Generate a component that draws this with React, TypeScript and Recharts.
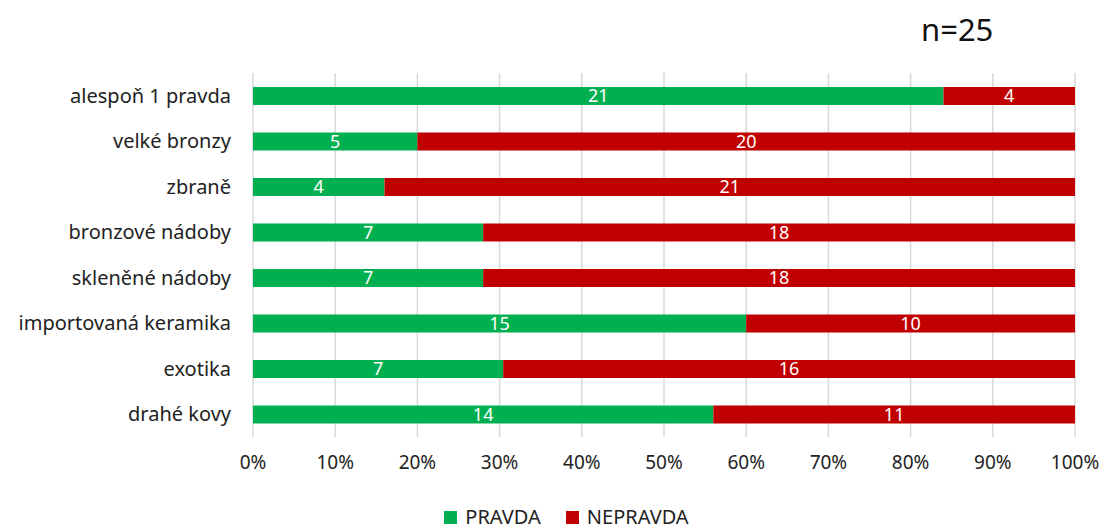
import { BarChart, Bar, XAxis, YAxis, CartesianGrid, LabelList, Legend } from "recharts"

const categories = [
  "alespoň 1 pravda",
  "velké bronzy",
  "zbraně",
  "bronzové nádoby",
  "skleněné nádoby",
  "importovaná keramika",
  "exotika",
  "drahé kovy",
]
const pravda = [21, 5, 4, 7, 7, 15, 7, 14]
const nepravda = [4, 20, 21, 18, 18, 10, 16, 11]
const xTicks = [0, 0.1, 0.2, 0.3, 0.4, 0.5, 0.6, 0.7, 0.8, 0.9, 1]

const GREEN = "#00b050"
const RED = "#c00000"
const FONT = "'Noto Sans', sans-serif"

const data = categories.map((name, i) => ({ name, pravda: pravda[i], nepravda: nepravda[i] }))

function LegendContent() {
  const items = [
    { label: "PRAVDA", color: GREEN },
    { label: "NEPRAVDA", color: RED },
  ]
  return (
    <div
      style={{
        display: "flex",
        justifyContent: "center",
        gap: 25,
        fontFamily: FONT,
        fontSize: 20,
        color: "#222",
        lineHeight: "26px",
        height: 26,
      }}
    >
      {items.map((it) => (
        <div key={it.label} style={{ display: "flex", alignItems: "center" }}>
          <span style={{ display: "inline-block", width: 13, height: 13, background: it.color, marginRight: 8 }} />
          <span>{it.label}</span>
        </div>
      ))}
    </div>
  )
}

export default function App() {
  return (
    <div style={{ position: "absolute", left: 0, top: 0, width: 1105, height: 532, background: "#fff" }}>
      <div
        style={{
          position: "absolute",
          left: 921,
          top: 8,
          fontFamily: FONT,
          fontSize: 31,
          color: "#111",
          lineHeight: "42px",
        }}
      >
        n=25
      </div>
      <BarChart
        width={1105}
        height={532}
        data={data}
        layout="vertical"
        stackOffset="expand"
        margin={{ top: 73, right: 30, bottom: 39, left: 0 }}
      >
        <CartesianGrid horizontal={false} stroke="#d9d9d9" strokeWidth={1.5} />
        <XAxis
          type="number"
          domain={[0, 1]}
          ticks={xTicks}
          tickFormatter={(v) => `${Math.round(v * 100)}%`}
          axisLine={false}
          tickLine={false}
          tickSize={0}
          tickMargin={19}
          height={30}
          tick={{ fontFamily: FONT, fontSize: 19, fill: "#222" }}
          interval={0}
        />
        <YAxis
          type="category"
          dataKey="name"
          width={253}
          axisLine={false}
          tickLine={false}
          tickSize={0}
          tickMargin={22}
          tick={{ fontFamily: FONT, fontSize: 20, fill: "#222" }}
          interval={0}
        />
        <Legend
          verticalAlign="bottom"
          height={26}
          wrapperStyle={{ bottom: 2, left: 29 }}
          content={() => <LegendContent />}
        />
        <Bar dataKey="pravda" stackId="a" fill={GREEN} barSize={18} isAnimationActive={false}>
          <LabelList dataKey="pravda" position="center" fill="#fff" style={{ fontFamily: FONT, fontSize: 18 }} />
        </Bar>
        <Bar dataKey="nepravda" stackId="a" fill={RED} barSize={18} isAnimationActive={false}>
          <LabelList dataKey="nepravda" position="center" fill="#fff" style={{ fontFamily: FONT, fontSize: 18 }} />
        </Bar>
      </BarChart>
    </div>
  )
}
